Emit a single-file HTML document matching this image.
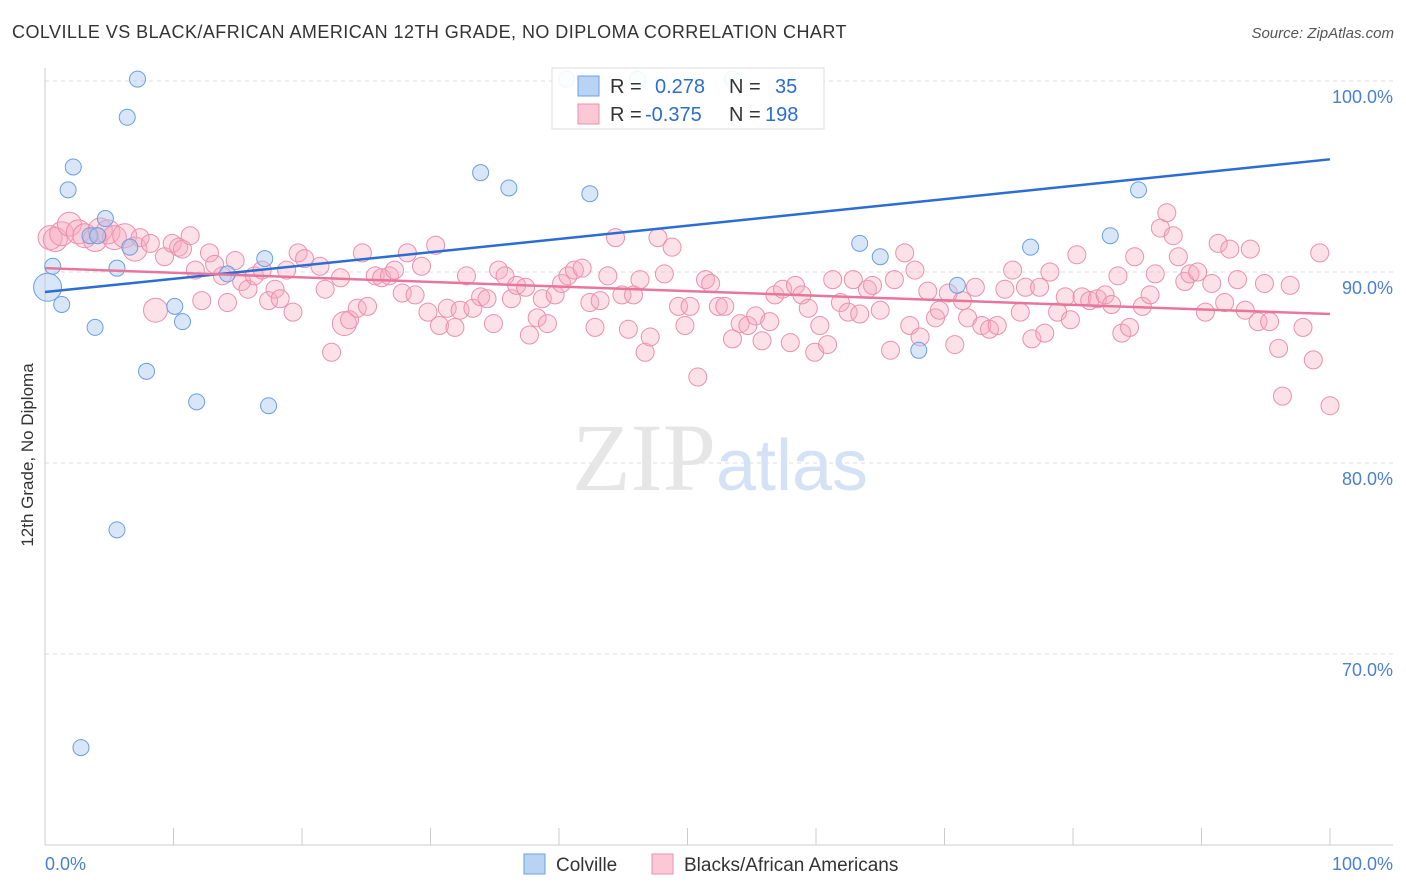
<!DOCTYPE html>
<html><head><meta charset="utf-8"><style>
body{margin:0;background:#fff;font-family:"Liberation Sans",sans-serif;}
#wrap{position:relative;width:1406px;height:892px;overflow:hidden;}
.t{position:absolute;white-space:nowrap;}
</style></head><body>
<div id="wrap">
<div class="t" style="left:12px;top:22px;font-size:18px;letter-spacing:0.45px;color:#333;">COLVILLE VS BLACK/AFRICAN AMERICAN 12TH GRADE, NO DIPLOMA CORRELATION CHART</div>
<div class="t" style="right:12px;top:25px;font-size:15px;color:#555;font-style:italic;">Source: ZipAtlas.com</div>
<div class="t" style="left:28px;top:455px;font-size:17px;color:#333;transform:translate(-50%,-50%) rotate(-90deg);">12th Grade, No Diploma</div>
<svg id="plot" width="1406" height="892" style="position:absolute;left:0;top:0"></svg>
</div>
<script>
const yTicks=[100,90,80,70];
const xTickLabels=["0.0%","100.0%"];
const blueX=[0.2,0.6,1.3,1.8,2.2,3.9,4.7,3.5,5.6,6.4,7.2,6.6,7.9,10.1,10.7,11.8,5.6,2.8,14.2,17.1,17.4,33.9,36.1,42.4,40.6,46.1,53.5,63.4,65.0,68.0,71.0,76.7,82.9,85.1,4.1];
const blueY=[89.2,90.3,88.3,94.3,95.5,87.1,92.8,91.9,90.2,98.1,100.1,91.3,84.8,88.2,87.4,83.2,76.5,65.1,89.9,90.7,83.0,95.2,94.4,94.1,100.1,100.1,100.1,91.5,90.8,85.9,89.3,91.3,91.9,94.3,91.9];
const pinkX=[0.4,0.8,1.3,1.9,2.6,3.1,3.9,4.3,4.9,5.4,6.2,7.0,7.4,8.2,8.6,9.3,9.9,10.4,10.7,11.3,11.7,12.2,12.8,13.2,13.8,14.2,14.8,15.3,15.8,16.3,16.9,17.4,17.9,18.3,18.8,19.3,19.7,20.2,21.4,21.8,22.3,23.0,23.3,23.7,24.3,24.7,25.1,25.7,26.2,26.8,27.2,27.8,28.2,28.8,29.3,29.8,30.4,30.7,31.3,31.9,32.3,32.8,33.3,33.9,34.4,34.9,35.3,35.8,36.3,36.7,37.4,37.7,38.3,38.7,39.1,39.7,40.2,40.7,41.2,41.8,42.4,42.8,43.2,43.8,44.4,44.9,45.4,45.8,46.3,46.7,47.1,47.7,48.2,48.8,49.3,49.8,50.2,50.8,51.4,51.8,52.4,52.9,53.5,54.1,54.7,55.3,55.8,56.4,56.8,57.4,58.0,58.4,58.9,59.4,59.9,60.3,60.9,61.3,61.9,62.5,62.9,63.4,64.0,64.4,65.0,65.8,66.1,66.9,67.3,67.7,68.1,68.7,69.3,69.6,70.3,70.8,71.4,71.8,72.4,72.9,73.5,74.1,74.7,75.3,75.9,76.3,76.8,77.4,77.8,78.2,78.8,79.4,79.8,80.3,80.7,81.3,81.9,82.5,83.0,83.5,83.8,84.4,84.8,85.4,86.0,86.4,86.8,87.3,87.8,88.2,88.7,89.1,89.7,90.3,90.8,91.3,91.8,92.2,92.8,93.4,93.8,94.4,94.9,95.3,96.0,96.3,96.9,97.9,98.7,99.2,100.0];
const pinkY=[91.8,91.7,92.0,92.5,92.1,91.9,91.7,92.2,92.1,91.8,91.9,91.2,91.8,91.5,88.0,90.8,91.5,91.3,91.2,91.9,90.1,88.5,91.0,90.4,89.8,88.4,90.6,89.5,89.1,89.8,90.1,88.5,89.1,88.6,90.1,87.9,91.0,90.7,90.3,89.1,85.8,89.7,87.3,87.5,88.1,91.0,88.2,89.8,89.7,89.8,90.1,88.9,91.0,88.8,90.3,87.9,91.4,87.2,88.1,87.1,88.0,89.8,88.1,88.7,88.6,87.3,90.1,89.8,88.6,89.3,89.2,86.7,87.6,88.6,87.3,88.8,89.4,89.8,90.1,90.2,88.4,87.1,88.5,89.8,91.8,88.8,87.0,88.8,89.6,85.8,86.6,91.8,89.9,91.3,88.2,87.2,88.2,84.5,89.6,89.4,88.2,88.2,86.5,87.3,87.2,87.7,86.4,87.4,88.8,89.1,86.3,89.3,88.8,88.1,85.8,87.2,86.2,89.6,88.4,87.9,89.6,87.8,89.1,89.3,88.0,85.9,89.6,91.0,87.2,90.1,86.6,89.0,87.6,88.0,88.9,86.2,88.5,87.6,89.2,87.2,87.0,87.2,89.1,90.1,87.9,89.2,86.5,89.2,86.8,90.0,87.9,88.7,87.5,90.9,88.7,88.5,88.6,88.8,88.3,89.8,86.8,87.1,90.8,88.2,88.8,89.9,92.3,93.1,91.9,90.8,89.5,89.9,90.0,87.9,89.4,91.5,88.4,91.2,89.6,88.0,91.2,87.4,89.4,87.4,86.0,83.5,89.3,87.1,85.4,91.0,83.0];
const blueTrend=[88.95,95.9];
const pinkTrend=[90.2,87.8];
const NS="http://www.w3.org/2000/svg";
const svg=document.getElementById('plot');
const X0=45,X1=1330;
function xs(v){return X0+(X1-X0)*v/100;}
function ys(v){return 272-(v-90)*19.1;}
function mk(tag,attrs){const e=document.createElementNS(NS,tag);for(const k in attrs)e.setAttribute(k,attrs[k]);svg.appendChild(e);return e;}
yTicks.forEach(v=>{
 const l=mk('line',{x1:45,x2:1393,y1:ys(v),y2:ys(v),stroke:'#dcdcdc','stroke-dasharray':'4,4'});
 
 
 const t=mk('text',{x:1393,y:ys(v)+22,'text-anchor':'end','font-size':18,fill:'#4a7fd4','font-family':'Liberation Sans, sans-serif'});
 t.textContent=v.toFixed(1)+'%';
 
 
});
const ax=mk('line',{x1:45,x2:1393,y1:845,y2:845,stroke:'#ccc'});


const ay=mk('line',{x1:45,x2:45,y1:68,y2:845,stroke:'#ccc'});


for(let i=0;i<=10;i++){const tk=mk('line',{x1:xs(i*10),x2:xs(i*10),y1:828,y2:845,stroke:'#ccc'});
 
 }
[[0,'start',45],[1,'end',1393]].forEach(([i,a,x])=>{const t=mk('text',{x:x,y:870,'text-anchor':a,'font-size':18,fill:'#4a7fd4','font-family':'Liberation Sans, sans-serif'});t.textContent=xTickLabels[i];
 
 });
const wm=mk('text',{x:720,y:490,'text-anchor':'middle','font-size':96,fill:'#e6e6e6','font-family':'Liberation Serif, serif'});
wm.innerHTML='ZIP<tspan font-family="Liberation Sans, sans-serif" font-size="72" fill="#d5e2f5">atlas</tspan>';


pinkX.forEach((x,i)=>{const r=i<12?12:(i==14||i==42?12:9);
 const c=mk('circle',{cx:xs(x),cy:ys(pinkY[i]),r:r,fill:'rgba(245,168,192,0.35)',stroke:'#ec8fae','stroke-width':1});
 
 });
blueX.forEach((x,i)=>{const r=i==0?14:8;
 const c=mk('circle',{cx:xs(x),cy:ys(blueY[i]),r:r,fill:'rgba(168,200,240,0.45)',stroke:'#6a9fe0','stroke-width':1});
 
 });
const bl=mk('line',{x1:xs(0),x2:xs(100),y1:ys(blueTrend[0]),y2:ys(blueTrend[1]),stroke:'#2a6dd4','stroke-width':2.5});


const pl=mk('line',{x1:xs(0),x2:xs(100),y1:ys(pinkTrend[0]),y2:ys(pinkTrend[1]),stroke:'#e8769c','stroke-width':2.5});


const lb=mk('rect',{x:552,y:68,width:272,height:61,fill:'rgba(255,255,255,0.9)',stroke:'#ddd'});


[[0,'#b9d3f5','#6a9fe0','0.278','35'],[1,'#fbc9d6','#ec8fae','-0.375','198']].forEach(([i,f,s,r,n])=>{
 const y=76+i*28;
 const sq=mk('rect',{x:578,y:y,width:21,height:20,fill:f,stroke:s});
 
 
 const t=mk('text',{x:610,y:y+17,'font-size':20,fill:'#333','font-family':'Liberation Sans, sans-serif'});
 t.innerHTML='R = <tspan fill="#2a6dd4" x="'+(i?645:655)+'">'+r+'</tspan><tspan x="729">N = </tspan><tspan fill="#2a6dd4" x="'+(i?765:775)+'">'+n+'</tspan>';
 
 
});
[[524,'#b9d3f5','#6a9fe0','Colville',556],[652,'#fbc9d6','#ec8fae','Blacks/African Americans',684]].forEach(([x,f,s,l,tx])=>{
 const sq=mk('rect',{x:x,y:854,width:21,height:20,fill:f,stroke:s});
 
 
 const t=mk('text',{x:tx,y:871,'font-size':19,fill:'#333','font-family':'Liberation Sans, sans-serif'});
 t.textContent=l;
 
 
});
</script>
</body></html>
